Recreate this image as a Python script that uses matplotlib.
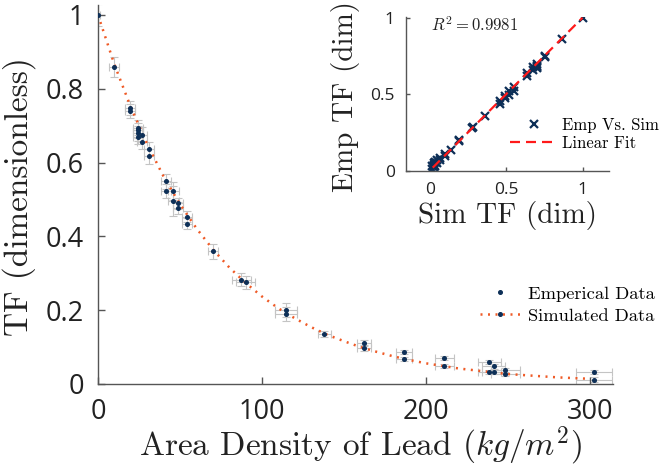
import matplotlib
matplotlib.use("Agg")
import matplotlib.pyplot as plt
from matplotlib.ticker import FuncFormatter

plt.rcParams['mathtext.fontset'] = 'cm'
plt.rcParams['axes.unicode_minus'] = False

# ---- Main plot data ----
emp_x = [0, 9.9, 19.5, 19.5, 24.6, 24.6, 24.6, 27, 24.6, 27, 31.3, 31.3,
         41.7, 41.7, 46, 46, 49, 49, 54.3, 54.3, 70.3, 87.4, 90, 114.8, 114.8,
         138, 162.2, 162.2, 186.6, 186.6, 211.2, 211.2, 238.4, 241.3, 238.4,
         241.3, 248.4, 248.4, 302.6, 302.6]
emp_y = [1.0, 0.86, 0.747, 0.741, 0.695, 0.687, 0.679, 0.676, 0.669, 0.656,
         0.637, 0.617, 0.549, 0.523, 0.523, 0.496, 0.49, 0.477, 0.453, 0.434,
         0.36, 0.283, 0.276, 0.201, 0.191, 0.136, 0.112, 0.098, 0.086, 0.068,
         0.07, 0.049, 0.06, 0.048, 0.032, 0.032, 0.037, 0.027, 0.033, 0.012]
emp_xerr = [1.5, 3, 2.8, 2.8, 3, 3, 3, 3, 3, 3, 3, 3,
            3, 3, 3.5, 3.5, 3, 3, 3, 3, 3, 6, 6, 6.8, 6.8,
            4, 4, 4, 5, 5, 6, 6, 7, 7, 7, 7, 9, 9, 11, 11]
emp_yerr = [0.03, 0.027, 0.019, 0.019, 0.02, 0.02, 0.02, 0.02, 0.02, 0.02,
            0.02, 0.02, 0.02, 0.02, 0.025, 0.04, 0.015, 0.015, 0.015, 0.015,
            0.02, 0.018, 0.018, 0.019, 0.019, 0.008, 0.008, 0.008, 0.006, 0.006,
            0.006, 0.006, 0.006, 0.006, 0.006, 0.006, 0.006, 0.006, 0.006, 0.006]

sim_x = [0, 10, 20, 30, 40, 50, 60, 70, 80, 90, 100, 110, 120, 130, 140, 150,
         160, 170, 180, 190, 200, 210, 220, 230, 240, 250, 260, 270, 280, 290, 300]
sim_y = [1.0, 0.866, 0.75, 0.65, 0.562, 0.487, 0.422, 0.365, 0.316, 0.274,
         0.237, 0.205, 0.178, 0.154, 0.133, 0.116, 0.1, 0.087, 0.075, 0.065,
         0.056, 0.049, 0.042, 0.037, 0.032, 0.027, 0.024, 0.021, 0.018, 0.016, 0.014]

# ---- Inset data ----
ins_sim = [1.0, 0.867, 0.755, 0.755, 0.70, 0.70, 0.70, 0.678, 0.70, 0.678,
           0.637, 0.637, 0.55, 0.55, 0.516, 0.516, 0.494, 0.494, 0.458, 0.458,
           0.364, 0.284, 0.274, 0.192, 0.192, 0.137, 0.097, 0.097, 0.068, 0.068,
           0.048, 0.048, 0.032, 0.031, 0.032, 0.031, 0.028, 0.028, 0.013, 0.013]
ins_emp = emp_y
fit_x = [0.02, 1.0]
fit_y = [0.02, 1.0]

navy = '#0d2f57'
orange = '#ef5a26'
gray = '#c4c4c4'
spine_c = '#555555'
txt_c = '#222222'

W, H = 661, 474
fig = plt.figure(figsize=(W / 100, H / 100), dpi=100)

# ---------------- main axes ----------------
ax = fig.add_axes([98/W, 90/H, 514.7/W, 379/H])
ax.errorbar(emp_x, emp_y, xerr=emp_xerr, yerr=emp_yerr, fmt='none',
            ecolor=gray, elinewidth=0.8, capsize=3, capthick=0.8, zorder=1)
sim_line, = ax.plot(sim_x, sim_y, color=orange, lw=1.8, dashes=(0.8, 2.2),
                    label='Simulated Data', zorder=2)
emp_pts, = ax.plot(emp_x, emp_y, 'o', color=navy, ms=2.6, mec=navy,
                   label='Emperical Data', zorder=3)
ax.set_xlim(0, 313.8)
ax.set_ylim(0, 1.027)
ax.set_xticks([0, 100, 200, 300])
ax.set_yticks([0, 0.2, 0.4, 0.6, 0.8, 1.0])
fmt = FuncFormatter(lambda v, p: ('%g' % v))
ax.xaxis.set_major_formatter(fmt)
ax.yaxis.set_major_formatter(fmt)
for s in ['top', 'right']:
    ax.spines[s].set_visible(False)
for s in ['left', 'bottom']:
    ax.spines[s].set_color(spine_c)
    ax.spines[s].set_linewidth(1.0)
ax.tick_params(direction='in', length=5, width=1, color=spine_c,
               labelsize=19.5, pad=10)
for lab in ax.get_xticklabels() + ax.get_yticklabels():
    lab.set_fontfamily('Open Sans')
    lab.set_color(txt_c)

ax.set_xlabel('Area Density of Lead ($kg/m^2$)', fontfamily='cmr10',
              fontsize=24, color=txt_c, va='center')
ax.xaxis.set_label_coords((360 - 98) / 514.7, -(446 - 384) / 379)
ax.set_ylabel('TF (dimensionless)', fontfamily='cmr10', fontsize=24,
              color=txt_c, va='center')
ax.yaxis.set_label_coords(-(98 - 19) / 514.7, (384 - 197) / 379)

ax.legend([emp_pts, (sim_line, emp_pts)], ['Emperical Data', 'Simulated Data'],
          loc='upper left', bbox_to_anchor=(480 / W, 1 - 286 / H),
          bbox_transform=fig.transFigure, frameon=False,
          prop={'family': 'cmr10', 'size': 13.3}, handlelength=2.2,
          handletextpad=0.38, labelspacing=0.33, borderaxespad=0.0,
          borderpad=0.0)

# ---------------- inset axes ----------------
ia = fig.add_axes([406/W, (H - 170.7)/H, 202.5/W, 153.7/H])
ia.plot(ins_sim, ins_emp, 'x', color=navy, ms=5.5, mew=1.6,
        label='Emp Vs. Sim', zorder=2)
ia.plot(fit_x, fit_y, color='#ff1a1a', lw=1.6, dashes=(4.5, 2.7),
        label='Linear Fit', zorder=3)
ia.set_xlim(-0.155, 1.17)
ia.set_ylim(0, 1.0046)
ia.set_xticks([0, 0.5, 1])
ia.set_yticks([0, 0.5, 1])
ia.xaxis.set_major_formatter(fmt)
ia.yaxis.set_major_formatter(fmt)
for s in ['top', 'right']:
    ia.spines[s].set_visible(False)
for s in ['left', 'bottom']:
    ia.spines[s].set_color(spine_c)
    ia.spines[s].set_linewidth(1.0)
ia.tick_params(direction='in', length=3, width=1, color=spine_c,
               labelsize=12.5, pad=8)
for lab in ia.get_xticklabels() + ia.get_yticklabels():
    lab.set_fontfamily('Open Sans')
    lab.set_color(txt_c)
ia.set_xlabel('Sim TF (dim)', fontfamily='cmr10', fontsize=21,
              color=txt_c, va='center')
ia.xaxis.set_label_coords((507 - 406) / 202.5, -(216 - 170.7) / 153.7)
ia.set_ylabel('Emp TF (dim)', fontfamily='cmr10', fontsize=21,
              color=txt_c, va='center')
ia.yaxis.set_label_coords(-(406 - 346) / 202.5, (170.7 - 97) / 153.7)
ia.text(0.01, 0.95, r'$R^2 = 0.9981$', fontsize=12, color=txt_c,
        ha='left', va='center', transform=ia.transData)
ia.legend(loc='upper left', bbox_to_anchor=(510 / W, 1 - 117.5 / H),
          bbox_transform=fig.transFigure, frameon=False,
          prop={'family': 'cmr10', 'size': 12}, handlelength=2.9,
          handletextpad=0.24, labelspacing=0.15, borderaxespad=0.0,
          borderpad=0.0)

fig.savefig('out.png', dpi=100)
